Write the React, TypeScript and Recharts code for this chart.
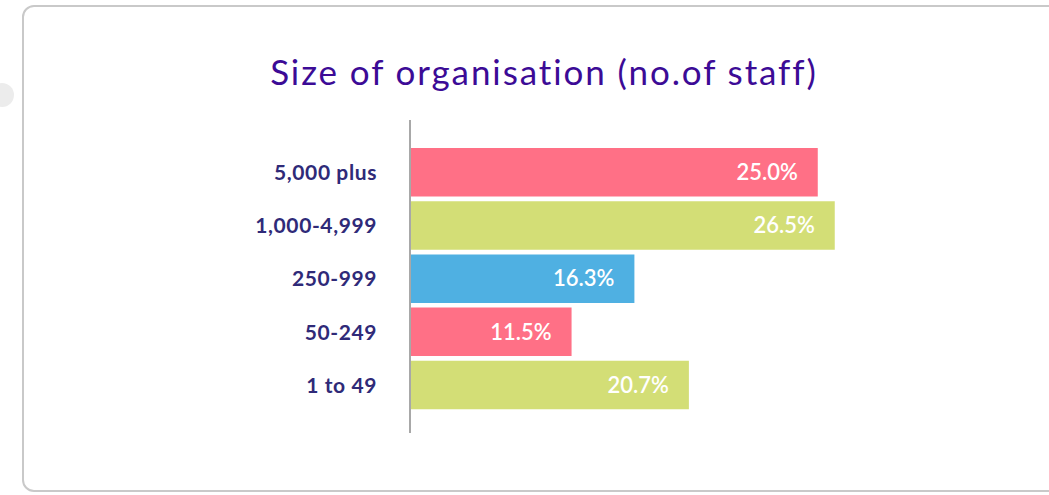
// Size of organisation bar chart (Recharts)
import React from "react";
import { BarChart, Bar, XAxis, YAxis, Cell, LabelList } from "recharts";

// categories, top to bottom
const sizes = ["5,000 plus", "1,000-4,999", "250-999", "50-249", "1 to 49"];
// bar lengths as drawn in the picture (they don't follow the printed shares exactly)
const barLengths = [25.44, 26.5, 14.0, 10.08, 17.4];
// printed share labels
const shares = ["25.0%", "26.5%", "16.3%", "11.5%", "20.7%"];
const barColors = ["#ff7086", "#d3de76", "#4fb0e2", "#ff7086", "#d3de76"];

const data = sizes.map((size, i) => ({ size, length: barLengths[i], share: shares[i] }));

const App: React.FC = () => {
  return (
    <div style={{ position: "absolute", left: 0, top: 0, width: 1049, height: 495, overflow: "hidden", background: "#fff", fontFamily: "Lato, sans-serif" }}>
      {/* little grey dot at the left edge */}
      <div style={{ position: "absolute", left: -10, top: 83, width: 24, height: 24, borderRadius: "50%", background: "#ececec" }} />
      {/* card */}
      <div style={{ position: "absolute", left: 22, top: 5, width: 1060, height: 483, border: "2px solid #c9c9c9", borderRadius: 12, background: "#fff" }} />
      <div style={{ position: "absolute", left: 0, top: 51, width: 1088, textAlign: "center", fontSize: 35, lineHeight: "40px", letterSpacing: 1.9, color: "#3c0b96", fontWeight: 400 }}>
        Size of organisation (no.of staff)
      </div>
      <div style={{ position: "absolute", left: 0, top: 0 }}>
        <BarChart width={1049} height={495} data={data} layout="vertical" margin={{ top: 120, right: 78, bottom: 62, left: 0 }}>
          <XAxis type="number" hide domain={[0, 35]} />
          <YAxis
            type="category"
            dataKey="size"
            width={410}
            padding={{ top: 26, bottom: 21 }}
            axisLine={{ stroke: "#a8a8a8", strokeWidth: 2 }}
            tickLine={false}
            tickSize={0}
            tickMargin={33}
            tick={{ fill: "#2f2a78", fontSize: 21, fontWeight: 700, fontFamily: "Lato, sans-serif", letterSpacing: 0.6 }}
          />
          <Bar dataKey="length" barSize={48.5} isAnimationActive={false}>
            {data.map((d, i) => (
              <Cell key={d.size} fill={barColors[i]} />
            ))}
            <LabelList dataKey="share" position="insideRight" offset={20} fill="#ffffff" fontSize={22} fontWeight={600} fontFamily="Lato, sans-serif" />
          </Bar>
        </BarChart>
      </div>
    </div>
  );
};

export default App;
